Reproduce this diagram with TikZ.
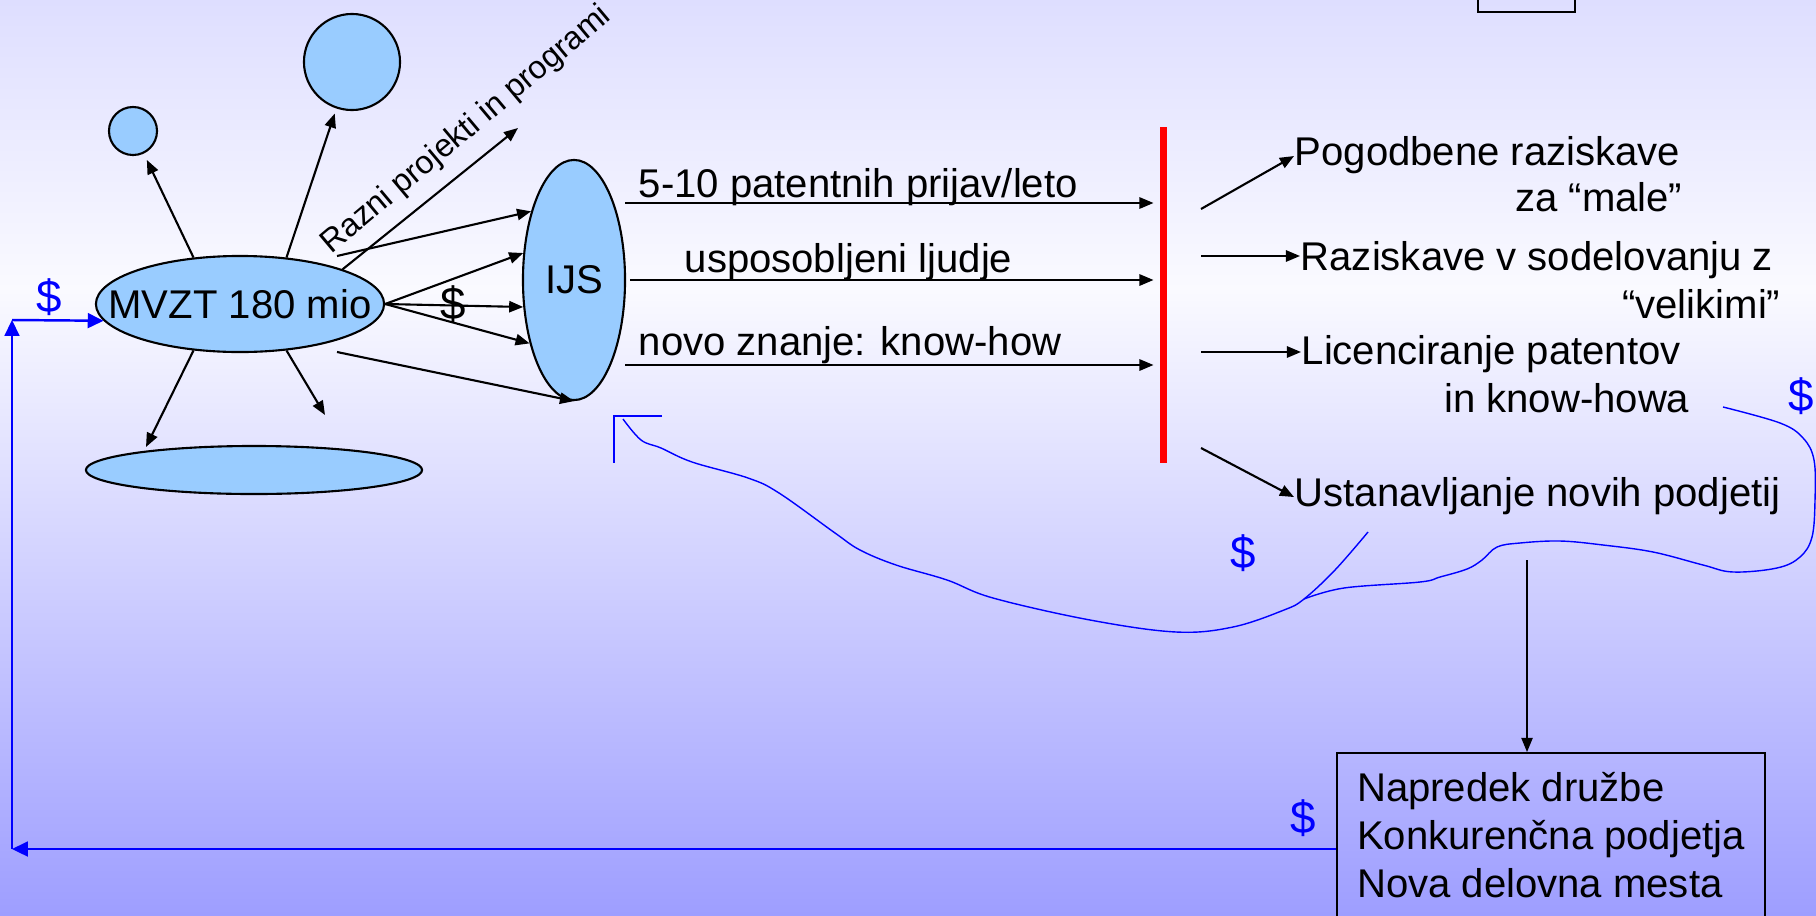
\documentclass[tikz,border=0pt]{standalone}
\usepackage{fontspec}
\setmainfont{Liberation Sans}
\usetikzlibrary{arrows.meta,positioning,shapes.geometric}

\definecolor{blob}{RGB}{153,204,255}
\definecolor{bgtop}{RGB}{222,222,255}
\definecolor{bgmid}{RGB}{250,250,255}
\definecolor{bgbot}{RGB}{158,158,255}
\definecolor{gatered}{RGB}{255,0,0}
\definecolor{cash}{RGB}{0,0,255}

\begin{document}
\begin{tikzpicture}[x=0.01cm,y=-0.01cm,
  font=\fontsize{11.4}{13.7}\selectfont,
  blob/.style={ellipse,draw,fill=blob,line width=0.6pt,inner sep=0pt},
  ball/.style={circle,draw,fill=blob,line width=0.6pt,inner sep=0pt},
  txt/.style={inner sep=0pt,text height=0.72em,text depth=0.21em},
  arr/.style={-{Triangle[length=4pt,width=3.2pt]},line width=0.6pt},
  money/.style={-{Triangle[length=4.5pt,width=4.2pt]},line width=0.7pt,cash},
  dollar/.style={inner sep=0pt,text=cash,font=\fontsize{13}{15}\selectfont},
  backflow/.style={cash,line width=0.4pt}
]

% Background
\useasboundingbox (0,0) rectangle (1816,915);
\fill[top color=bgtop,bottom color=bgmid] (0,0) rectangle (1816,290);
\fill[top color=bgmid,bottom color=bgbot] (0,290) rectangle (1816,915);
\draw[line width=0.5pt] (1478,0) -- (1478,12) -- (1575,12) -- (1575,0);

% Funding and projects
\node[blob,minimum width=2.88cm,minimum height=0.96cm,label=center:MVZT 180 mio] (mvzt) at (240,304) {};
\node[ball,minimum size=0.48cm] (small) at (133,131) {};
\node[ball,minimum size=0.96cm] (big) at (352,62) {};
\node[blob,minimum width=3.36cm,minimum height=0.48cm] (flat) at (254,470) {};
\node[blob,minimum width=1.02cm,minimum height=2.40cm,label=center:IJS] (ijs) at (574,280) {};
\node[font=\fontsize{9.2}{11}\selectfont,rotate=40,anchor=base west,inner sep=0pt] (razni) at (331,255) {Razni projekti in programi};
\node[font=\fontsize{13}{15}\selectfont,inner sep=0pt] (cash0) at (453,304) {\$};
\coordinate (rp) at (518,128);
\coordinate (m1) at (337,256);
\coordinate (m2) at (337,352);
\coordinate (b1) at (146,447);
\coordinate (b2) at (325,415);

% Results of IJS
\node[fill=gatered,minimum width=0.07cm,minimum height=3.36cm,inner sep=0pt] (gate) at (1163,295) {};
\node[txt,anchor=base west] (pat) at (638,197) {5-10 patentnih prijav/leto};
\node[txt,anchor=base west] (ppl) at (684,272) {usposobljeni ljudje};
\node[txt,anchor=base west] (know) at (638,355) {novo znanje: know-how};
\coordinate (o1) at (625,203);
\coordinate (o2) at (630,280);
\coordinate (o3) at (625,365);

% Transfer to economy
\node[txt,anchor=base west] (pog) at (1294,165) {Pogodbene raziskave};
\node[txt,anchor=base east] (pog2) at (1683,211) {za “male”};
\node[txt,anchor=base west] (ras) at (1300,270) {Raziskave v sodelovanju z};
\node[txt,anchor=base east] (ras2) at (1781,318) {“velikimi”};
\node[txt,anchor=base west] (lic) at (1301,364) {Licenciranje patentov};
\node[txt,anchor=base east] (lic2) at (1690,412) {in know-howa};
\node[txt,anchor=base west] (ust) at (1294,506) {Ustanavljanje novih podjetij};
\coordinate (g1) at (1201,209);
\coordinate (g2) at (1201,256);
\coordinate (g3) at (1201,352);
\coordinate (g4) at (1201,448);

% Benefit for society
\node[draw,line width=0.6pt,anchor=north west,minimum width=4.26cm,inner xsep=0.2cm,inner ysep=0.19cm,align=left] (gain) at (1336,752) {Napredek družbe\\Konkurenčna podjetja\\Nova delovna mesta};
\coordinate (dn) at (1527,560);
\coordinate (bl) at (12,849);
\coordinate (tl) at (12,320);

% Money
\node[dollar] (d1) at (49,297) {\$};
\node[dollar] (d2) at (1243,553) {\$};
\node[dollar] (d3) at (1801,396) {\$};
\node[dollar] (d4) at (1303,818) {\$};

% Arrows
\draw[arr,shorten >=2pt] (mvzt.135) -- (small);
\draw[arr,shorten >=1.5pt] (mvzt.45) -- (big);
\draw[arr] (mvzt.north east) -- (rp);
\draw[arr] (m1) -- (ijs.122);
\draw[arr] (mvzt.east) -- (ijs.152);
\draw[arr] (mvzt.east) -- (ijs.208);
\draw[arr] (mvzt.east) -- (ijs.235);
\draw[arr] (m2) -- (ijs.south);
\draw[arr] (mvzt.225) -- (b1);
\draw[arr] (mvzt.315) -- (b2);

\draw[arr,shorten >=1.5pt] (o1) -- (o1 -| gate.west);
\draw[arr,shorten >=1.5pt] (o2) -- (o2 -| gate.west);
\draw[arr,shorten >=1.5pt] (o3) -- (o3 -| gate.west);

\draw[arr] (g1) -- (pog.west);
\draw[arr] (g2) -- (g2 -| ras.west);
\draw[arr] (g3) -- (g3 -| lic.west);
\draw[arr] (g4) -- (ust.west);

\draw[arr,line width=0.4pt] (dn) -- (dn |- gain.north);

\draw[money] (bl -| gain.west) -- (bl);
\draw[money] (bl) -- (tl);
\draw[money] (tl) -- (mvzt.187);

% Money flowing back to IJS
\draw[backflow] plot[smooth,tension=0.6] coordinates {(1368,532) (1335,570) (1304,599) (1284,610) (1233,627) (1176,632) (1090,620) (993,598) (947,580) (896,565) (860,550) (835,533) (779,493) (748,478) (692,462) (661,448) (641,440) (623,419)};
\draw[backflow] plot[smooth,tension=0.6] coordinates {(1723,407) (1780,423) (1803,438) (1814,460) (1815,500) (1812,537) (1800,557) (1777,568) (1733,572) (1703,565) (1653,552) (1603,545) (1560,541) (1520,543) (1497,547) (1482,560) (1467,569) (1440,577) (1420,582) (1344,588) (1304,599)};
\draw[cash,line width=0.6pt] (662,416) -- (614,416) -- (614,463);

\end{tikzpicture}
\end{document}
